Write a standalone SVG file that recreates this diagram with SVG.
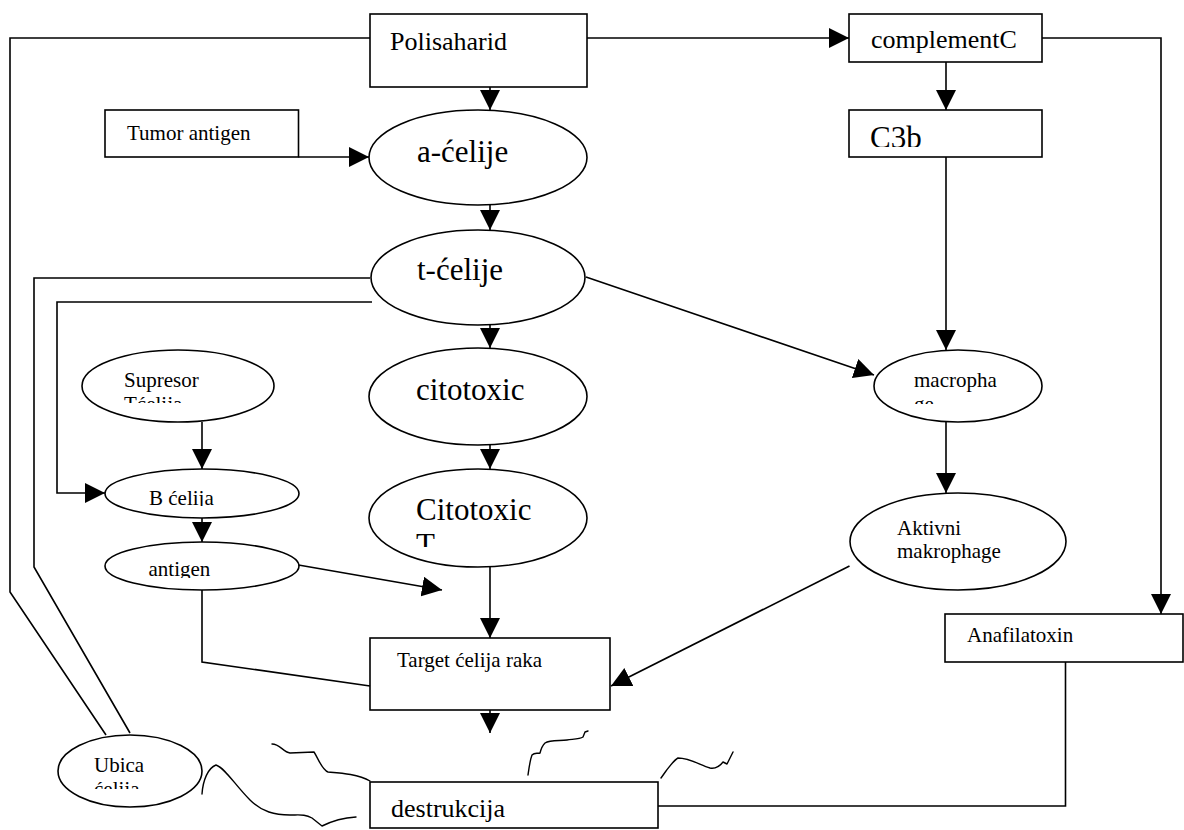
<svg xmlns="http://www.w3.org/2000/svg" width="1184" height="830" viewBox="0 0 1184 830">
<style>
.n{fill:#fff;stroke:#000;stroke-width:1.6}
.c{fill:none;stroke:#000;stroke-width:1.6}
.a{marker-end:url(#ah)}
.s{fill:none;stroke:#000;stroke-width:1.4;stroke-linejoin:round;stroke-linecap:round}
text{font-family:"Liberation Serif","Times New Roman",serif;fill:#000}
.f21{font-size:21px}
.f26{font-size:26px}
.f31{font-size:31px}
</style>
<defs>
<marker id="ah" markerUnits="userSpaceOnUse" viewBox="0 0 20 20" markerWidth="20" markerHeight="20" refX="20" refY="10" orient="auto"><path d="M0,0 L20,10 L0,20 z" fill="#000"/></marker>
<clipPath id="kc3b"><rect x="849" y="110" width="193" height="37"/></clipPath>
<clipPath id="ksup"><rect x="82" y="350" width="192" height="53"/></clipPath>
<clipPath id="kmac"><rect x="874" y="350" width="169" height="54"/></clipPath>
<clipPath id="kcit"><rect x="369" y="469" width="218" height="78"/></clipPath>
<clipPath id="kubi"><rect x="58" y="735" width="144" height="54"/></clipPath>
<clipPath id="kb"><rect x="105" y="469" width="194" height="37"/></clipPath>
<clipPath id="kant"><rect x="105" y="542" width="194" height="36"/></clipPath>
</defs>
<rect width="1184" height="830" fill="#fff"/>

<g id="polisaharid"><rect class="n" x="370" y="14" width="217" height="73"/><text class="f26" x="390" y="50">Polisaharid</text></g>
<g id="tumor-antigen"><rect class="n" x="105" y="110" width="193.5" height="47"/><text class="f21" x="127" y="140">Tumor antigen</text></g>
<g id="a-celije"><ellipse class="n" cx="478" cy="157.5" rx="109" ry="47.5"/><text class="f31" x="417" y="162">a-ćelije</text></g>
<g id="t-celije"><ellipse class="n" cx="478" cy="277.5" rx="107" ry="47.5"/><text class="f31" x="417" y="280">t-ćelije</text></g>
<g id="citotoxic"><ellipse class="n" cx="478" cy="396.5" rx="109" ry="48.5"/><text class="f31" x="416" y="400">citotoxic</text></g>
<g id="citotoxic-t"><ellipse class="n" cx="478" cy="518" rx="109" ry="49"/><g clip-path="url(#kcit)"><text class="f31" x="416" y="520">Citotoxic</text><text class="f31" x="416" y="555">T</text></g></g>
<g id="supresor"><ellipse class="n" cx="178" cy="386" rx="96" ry="36"/><g clip-path="url(#ksup)"><text class="f21" x="124" y="387">Supresor</text><text class="f21" x="124" y="411">Tćelija</text></g></g>
<g id="b-celija"><ellipse class="n" cx="202" cy="493.5" rx="97" ry="24.5"/><g clip-path="url(#kb)"><text class="f21" x="149" y="505">B ćelija</text></g></g>
<g id="antigen"><ellipse class="n" cx="202" cy="566" rx="97" ry="24"/><g clip-path="url(#kant)"><text class="f21" x="148.5" y="576">antigen</text></g></g>
<g id="complementC"><rect class="n" x="849" y="14" width="193" height="48"/><text class="f26" x="871" y="48">complementC</text></g>
<g id="c3b"><rect class="n" x="849" y="110" width="193" height="47"/><g clip-path="url(#kc3b)"><text style="font-size:31px" x="870" y="148">C3b</text></g></g>
<g id="macrophage"><ellipse class="n" cx="958" cy="386" rx="84" ry="36"/><g clip-path="url(#kmac)"><text class="f21" x="914" y="387">macropha</text><text class="f21" x="914" y="411">ge</text></g></g>
<g id="aktivni"><ellipse class="n" cx="958" cy="541.5" rx="108" ry="48.5"/><text class="f21" x="897" y="535">Aktivni</text><text class="f21" x="897" y="558">makrophage</text></g>
<g id="anafilatoxin"><rect class="n" x="945" y="614" width="238" height="48"/><text class="f21" x="967" y="642">Anafilatoxin</text></g>
<g id="target"><rect class="n" x="370" y="638" width="240" height="72"/><text class="f21" x="397" y="667">Target ćelija raka</text></g>
<g id="destrukcija"><rect class="n" x="370" y="782" width="288" height="46"/><text class="f26" x="391" y="817">destrukcija</text></g>
<g id="ubica"><ellipse class="n" cx="130" cy="771" rx="72" ry="36"/><g clip-path="url(#kubi)"><text class="f21" x="94" y="772">Ubica</text><text class="f21" x="94" y="796">ćelija</text></g></g>

<g id="connectors">
<path class="c" d="M370,38 H10 V592 L106,735"/>
<path class="c" d="M370,278 H34 V567 L130,733"/>
<path class="c a" d="M372,302 H57 V493 H105"/>
<path class="c a" d="M490,87 V110"/>
<path class="c a" d="M298.5,157 H369"/>
<path class="c a" d="M490,205 V230"/>
<path class="c a" d="M490,325 V348"/>
<path class="c a" d="M490,445 V469"/>
<path class="c a" d="M202,422 V469"/>
<path class="c a" d="M202,518 V542"/>
<path class="c a" d="M298.5,565 L442,590"/>
<path class="c" d="M202,590 V662 L370,686"/>
<path class="c a" d="M490,567 V638"/>
<path class="c a" d="M490,710 V733"/>
<path class="c a" d="M587,38 H849"/>
<path class="c a" d="M946,62 V110"/>
<path class="c a" d="M946,157 V350"/>
<path class="c a" d="M586,277 L874,375"/>
<path class="c a" d="M946,422 V493"/>
<path class="c a" d="M849.5,566 L611,686"/>
<path class="c a" d="M1042,38 H1161 V614"/>
<path class="c" d="M1065.5,662 V806 H658"/>
</g>

<g id="squiggles">
<path class="s" d="M272,744 C280,744 283,752 290,753 L314,752 C318,758 322,770 328,772 C340,773 358,774 370,781"/>
<path class="s" d="M202,794 C203,780 208,768 216,765 C225,768 235,785 250,800 C262,812 275,815 290,815 C300,815 305,814 312,818 L322,826 C330,822 340,818 356,817"/>
<path class="s" d="M528,775 C529,768 530,760 532,755 C535,752 538,754 540,753 C541,749 542,746 545,743 C550,740 560,741 567,740 C575,739 580,739 583,737 L585,732 L588,731"/>
<path class="s" d="M661,778 L666,771 C670,766 674,760 678,758 C690,758 700,765 710,768 C716,769 720,766 723,762 L727,764 L733,752"/>
</g>
</svg>
